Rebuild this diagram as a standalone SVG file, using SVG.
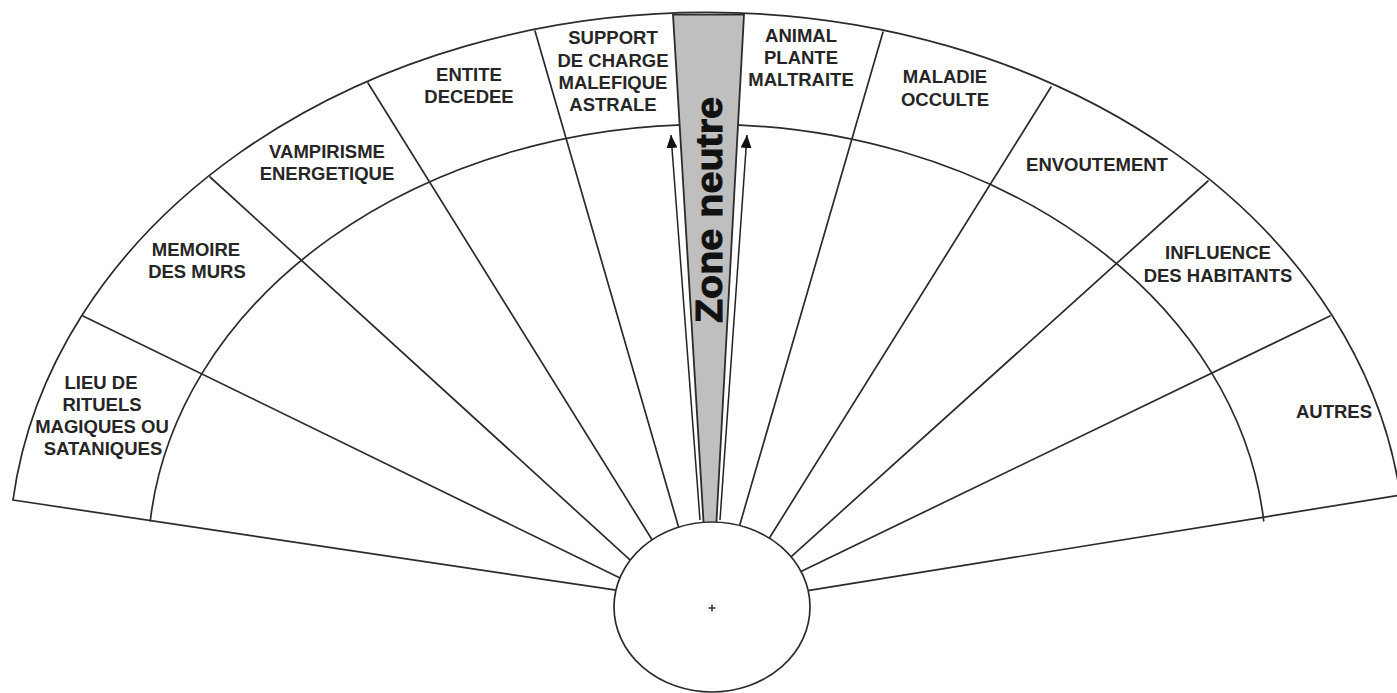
<svg xmlns="http://www.w3.org/2000/svg" width="1397" height="693" viewBox="0 0 1397 693">
<style>
.ln{fill:none;stroke:#2b2b2b;stroke-width:1.7;stroke-linecap:round}
.lb{font-family:"Liberation Sans",Arial,Helvetica,sans-serif;font-weight:bold;font-size:18.5px;fill:#262626;text-anchor:middle}
.zn{font-family:"Liberation Sans",Arial,Helvetica,sans-serif;font-weight:bold;font-size:36px;fill:#111;stroke:#111;stroke-width:1;text-anchor:middle}
.arr{fill:none;stroke:#222;stroke-width:1.5}
</style>
<defs>
<marker id="ah" markerUnits="userSpaceOnUse" markerWidth="13" markerHeight="11" refX="13" refY="5.5" orient="auto">
<path d="M0,0 L13,5.5 L0,11 z" fill="#111"/>
</marker>
</defs>
<rect width="1397" height="693" fill="#ffffff"/>
<g id="connectors">
<path class="ln" d="M 13 500 A 698 546 0 0 1 1401 500"/>
<path class="ln" d="M 150.3 520.8 A 559 436 0 0 1 1263.7 520.8"/>
<line class="ln" x1="13" y1="500" x2="622.9" y2="591.2"/>
<line class="ln" x1="83" y1="316" x2="625.2" y2="580.5"/>
<line class="ln" x1="210" y1="177" x2="634.9" y2="564.4"/>
<line class="ln" x1="368" y1="83" x2="655.2" y2="544.8"/>
<line class="ln" x1="535" y1="31" x2="680.2" y2="532.7"/>
<line class="ln" x1="883" y1="32" x2="737.8" y2="531.7"/>
<line class="ln" x1="1051" y1="87" x2="765.8" y2="543.8"/>
<line class="ln" x1="1208" y1="181" x2="787.1" y2="560.4"/>
<line class="ln" x1="1330" y1="316" x2="796.8" y2="573.5"/>
<line class="ln" x1="1401" y1="495" x2="803.1" y2="591.3"/>
<line class="arr" x1="700" y1="520" x2="671" y2="135" marker-end="url(#ah)"/>
<line class="arr" x1="720" y1="520" x2="747" y2="135" marker-end="url(#ah)"/>
</g>
<g id="zone-neutre">
<polygon points="673,14.6 744,14.6 716,530 704,530" fill="#bfbfbf" stroke="#2b2b2b" stroke-width="1.8" stroke-linejoin="round"/>
<text class="zn" transform="translate(722,210) rotate(-90)" x="0" y="0" textLength="226" lengthAdjust="spacingAndGlyphs">Zone neutre</text>
</g>
<g id="pendule">
<ellipse cx="712" cy="607" rx="98" ry="85" fill="#ffffff" stroke="#2b2b2b" stroke-width="1.7"/>
<path d="M708.5 608 H715.5 M712 604.5 V611.5" stroke="#333" stroke-width="1.5"/>
</g>
<g id="lieu-de-rituels">
<text class="lb" x="101" y="389">LIEU DE</text>
<text class="lb" x="102" y="411">RITUELS</text>
<text class="lb" x="102" y="433">MAGIQUES OU</text>
<text class="lb" x="103" y="455">SATANIQUES</text>
</g>
<g id="memoire-des-murs">
<text class="lb" x="196" y="256">MEMOIRE</text>
<text class="lb" x="197" y="278">DES MURS</text>
</g>
<g id="vampirisme">
<text class="lb" x="327" y="158">VAMPIRISME</text>
<text class="lb" x="327" y="180">ENERGETIQUE</text>
</g>
<g id="entite-decedee">
<text class="lb" x="469" y="81">ENTITE</text>
<text class="lb" x="469" y="103">DECEDEE</text>
</g>
<g id="support-de-charge">
<text class="lb" x="613" y="44">SUPPORT</text>
<text class="lb" x="613" y="67">DE CHARGE</text>
<text class="lb" x="613" y="89">MALEFIQUE</text>
<text class="lb" x="613" y="111">ASTRALE</text>
</g>
<g id="animal-plante">
<text class="lb" x="801" y="42">ANIMAL</text>
<text class="lb" x="801" y="64">PLANTE</text>
<text class="lb" x="801" y="86">MALTRAITE</text>
</g>
<g id="maladie-occulte">
<text class="lb" x="945" y="83">MALADIE</text>
<text class="lb" x="945" y="106">OCCULTE</text>
</g>
<g id="envoutement">
<text class="lb" x="1097" y="171">ENVOUTEMENT</text>
</g>
<g id="influence-habitants">
<text class="lb" x="1218" y="259">INFLUENCE</text>
<text class="lb" x="1218" y="282">DES HABITANTS</text>
</g>
<g id="autres">
<text class="lb" x="1334" y="418">AUTRES</text>
</g>
</svg>
